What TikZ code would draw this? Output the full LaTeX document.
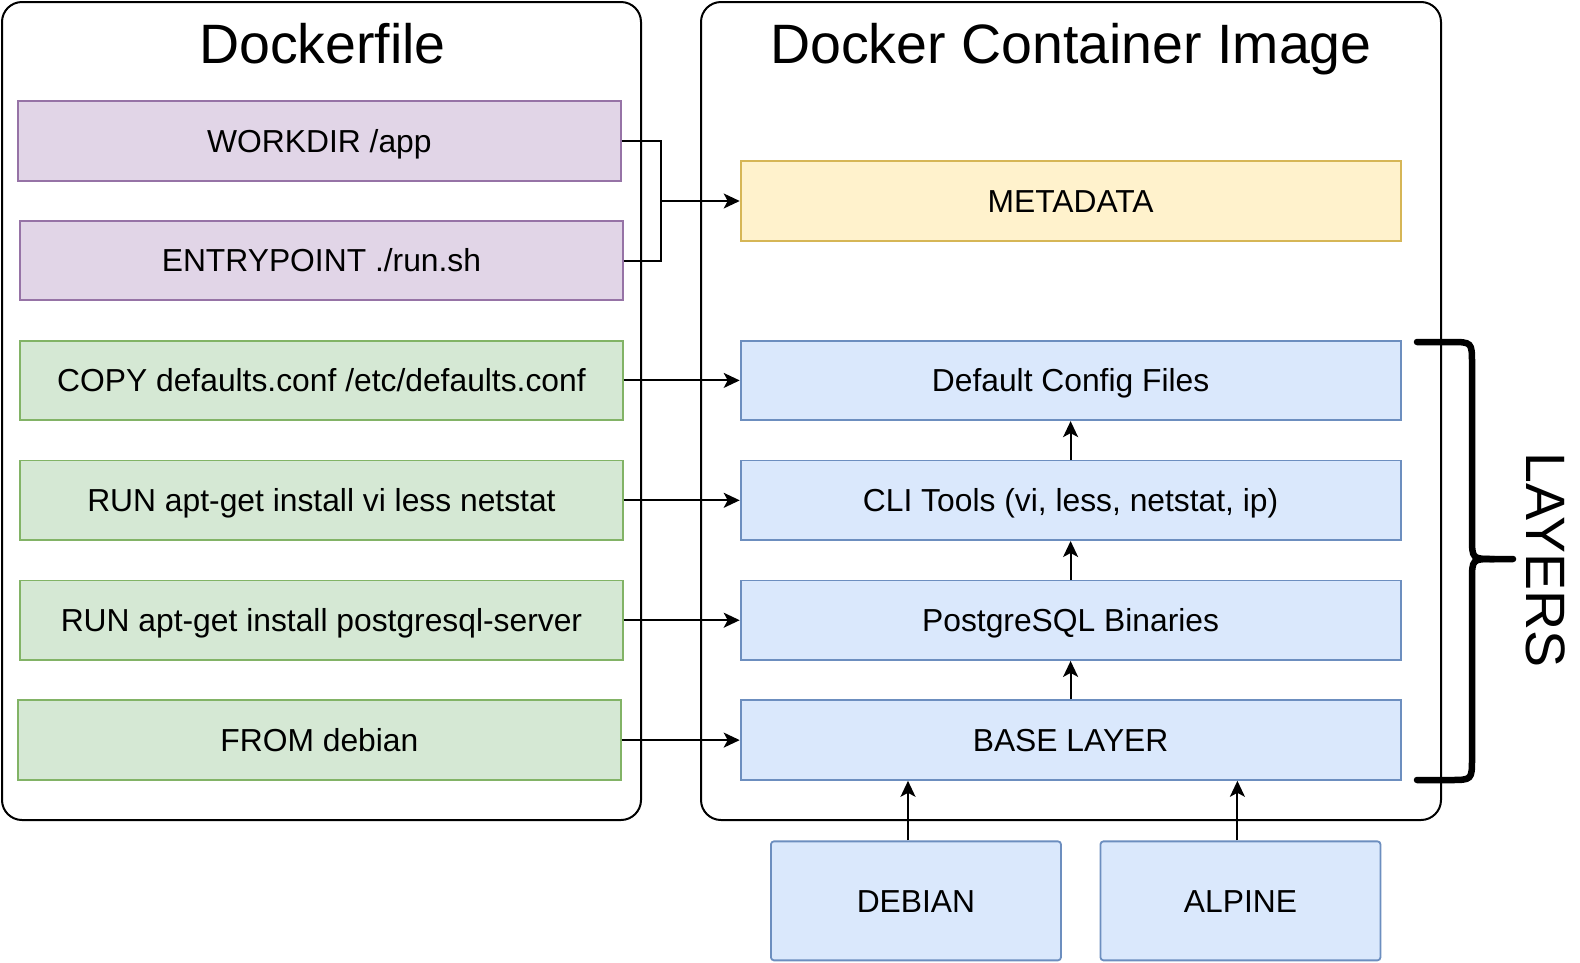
\documentclass[tikz,border=0pt]{standalone}
\usepackage{fontspec}
\setmainfont{Liberation Sans}
\usetikzlibrary{arrows.meta}
\definecolor{pfill}{HTML}{E1D5E7}\definecolor{pdraw}{HTML}{9673A6}
\definecolor{gfill}{HTML}{D5E8D4}\definecolor{gdraw}{HTML}{82B366}
\definecolor{yfill}{HTML}{FFF2CC}\definecolor{ydraw}{HTML}{D6B656}
\definecolor{bfill}{HTML}{DAE8FC}\definecolor{bdraw}{HTML}{6C8EBF}
\tikzset{
  box/.style={draw, line width=1.8pt, minimum height=79.6pt, inner sep=0pt,
    font=\fontsize{31.8}{38}\selectfont, text height=22.8pt, text depth=0pt},
  purplebox/.style={box, fill=pfill, draw=pdraw, minimum width=602.6pt},
  greenbox/.style={box, fill=gfill, draw=gdraw, minimum width=602.5pt},
  yellowbox/.style={box, fill=yfill, draw=ydraw, minimum width=660pt},
  bluebox/.style={box, fill=bfill, draw=bdraw, minimum width=660pt},
  osbox/.style={box, fill=bfill, draw=bdraw, rounded corners=3pt, minimum height=119pt},
  container/.style={draw, line width=2pt, rounded corners=20pt, minimum height=818pt},
  title/.style={font=\fontsize{55.5}{66}\selectfont, inner sep=0pt, text height=39.7pt, text depth=0pt},
  arr/.style={line width=2pt, -{Stealth[length=16pt,width=15pt,inset=4pt]}},
  conn/.style={line width=2pt},
}
\begin{document}
\begin{tikzpicture}[x=1pt,y=-1pt]
\useasboundingbox (0,0) rectangle (1580,962);
% containers
\node[container, minimum width=639pt] (lc) at (321.5,411) {};
\node[container, minimum width=740pt] (rc) at (1071,411) {};
\node[title] (lt) at (322.5,44) {Dockerfile};
\node[title] (rt) at (1071,44) {Docker Container Image};
% left boxes
\node[purplebox] (wd) at (319.4,141.1) {WORKDIR /app};
\node[purplebox] (ep) at (321.45,260.5) {ENTRYPOINT ./run.sh};
\node[greenbox] (cp) at (321.45,380.4) {COPY defaults.conf /etc/defaults.conf};
\node[greenbox] (rv) at (321.45,500.3) {RUN apt-get install vi less netstat};
\node[greenbox] (rp) at (321.45,620.2) {RUN apt-get install postgresql-server};
\node[purplebox, fill=gfill, draw=gdraw] (fr) at (319.4,740.1) {FROM debian};
% right boxes
\node[yellowbox] (md) at (1070.6,201) {METADATA};
\node[bluebox] (dc) at (1070.6,380.4) {Default Config Files};
\node[bluebox] (cl) at (1070.6,500.3) {CLI Tools (vi, less, netstat, ip)};
\node[bluebox] (pg) at (1070.6,620.2) {PostgreSQL Binaries};
\node[bluebox] (bl) at (1070.6,740.1) {BASE LAYER};
\node[osbox, minimum width=290pt] (deb) at (915.95,900.85) {DEBIAN};
\node[osbox, minimum width=280pt] (alp) at (1240.45,900.85) {ALPINE};
% connectors
\coordinate (j) at (661,201);
\draw[conn] (wd.east) -| (j);
\draw[conn] (ep.east) -| (j);
\draw[arr] (j) -- (md.west);
\draw[arr] (cp.east) -- (dc.west);
\draw[arr] (rv.east) -- (cl.west);
\draw[arr] (rp.east) -- (pg.west);
\draw[arr] (fr.east) -- (bl.west);
\draw[arr] (bl.north) -- (pg.south);
\draw[arr] (pg.north) -- (cl.south);
\draw[arr] (cl.north) -- (dc.south);
\coordinate (dx) at (908,0);
\coordinate (ax) at (1237.4,0);
\draw[arr] (deb.north -| dx) -- (bl.south -| dx);
\draw[arr] (alp.north -| ax) -- (bl.south -| ax);
% brace
\draw[line width=6.5pt, line cap=round]
  (1417,342) -- (1450,342) .. controls (1472,342) .. (1472,364) -- (1472,537)
  .. controls (1472,559) .. (1494,559) -- (1513,559);
\draw[line width=6.5pt, line cap=round]
  (1494,559) .. controls (1472,559) .. (1472,581) -- (1472,758)
  .. controls (1472,780) .. (1450,780) -- (1417,780);
\node[title, rotate=-90] (layers) at (1546,560) {LAYERS};
\end{tikzpicture}
\end{document}
